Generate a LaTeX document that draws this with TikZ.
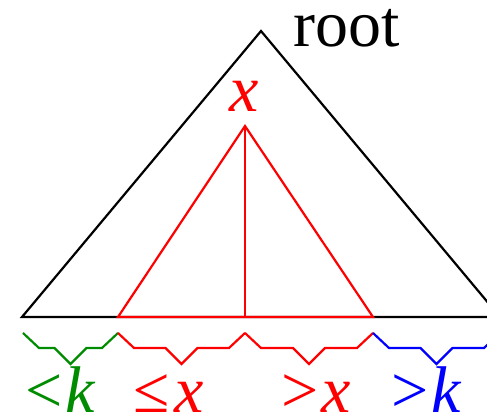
\documentclass[tikz,border=0pt]{standalone}
\usepackage{fontspec}
\setmainfont{Liberation Serif}
\definecolor{bgreen}{RGB}{0,140,0}
\newcommand\zbrace[3]{\draw[brace line,#3] (#1,333) -- ++(16,15) -- ({(#1+#2)/2-16},348) -- ({(#1+#2)/2},364) -- ++(16,-16) -- ({#2-16},348) -- (#2,333);}
\begin{document}
\begin{tikzpicture}[x=1pt,y=-1pt,
  tri/.style={line width=2.2pt,line join=miter},
  brace line/.style={line width=2.2pt,line join=miter},
  big/.style={inner sep=0pt,text height=30pt,text depth=0pt,font=\fontsize{66}{66}\selectfont}]
\useasboundingbox (0,0) rectangle (487,415);
\clip (0,0) rectangle (487,415);
% outer tree
\coordinate (top) at (261,31);
\coordinate (bl) at (22,317);
\coordinate (br) at (500,317);
\draw[tri,black] (top) -- (bl) -- (br) -- cycle;
% subtree x
\coordinate (xtop) at (245,126);
\coordinate (xbl) at (118,317);
\coordinate (xbr) at (373,317);
\coordinate (xbm) at (245,317);
\draw[tri,red] (xtop) -- (xbl) -- (xbr) -- cycle;
\draw[tri,red] (xtop) -- (xbm);
% labels
\node[big,anchor=base west] (root) at (293,46) {root};
\node[big,anchor=base,text=red] (xlab) at (244,111) {\itshape x};
% braces
\zbrace{23}{118}{bgreen}
\zbrace{118}{245}{red}
\zbrace{245}{373}{red}
\zbrace{373}{500}{blue}
\node[big,anchor=base west,text=bgreen] (lk) at (25,412) {<\kern3pt\itshape k};
\node[big,anchor=base west,text=red] (lex) at (133,412) {≤\kern5pt\itshape x};
\node[big,anchor=base west,text=red] (gx) at (281,412) {>\kern3pt\itshape x};
\node[big,anchor=base west,text=blue] (gk) at (391,412) {>\kern3pt\itshape k};
\end{tikzpicture}
\end{document}
